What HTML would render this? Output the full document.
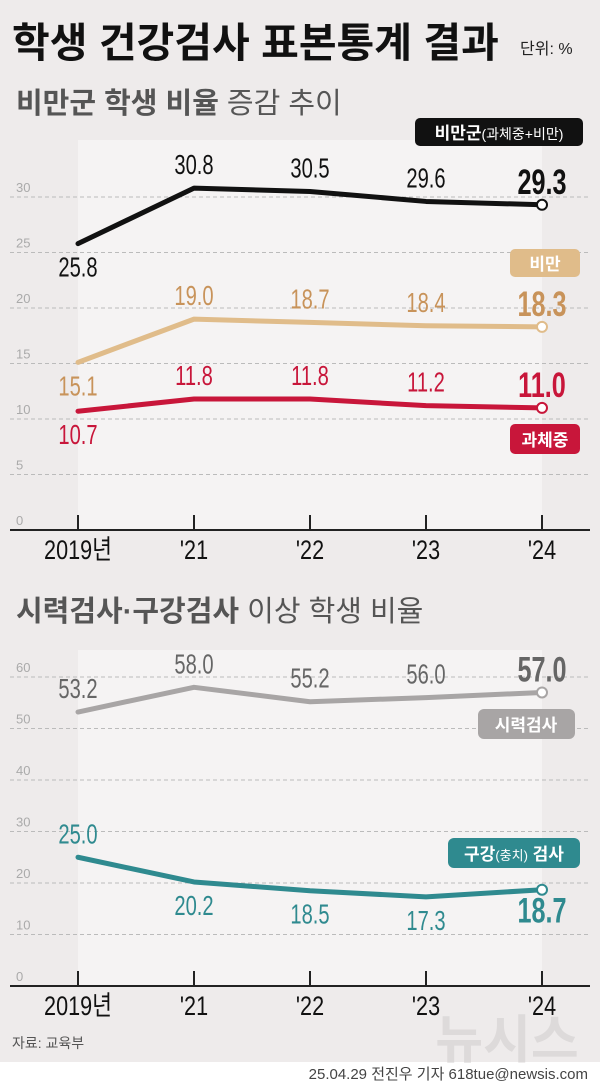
<!DOCTYPE html>
<html><head><meta charset="utf-8">
<style>
body{margin:0;background:#fff;}
svg{display:block;font-family:"Liberation Sans","Noto Sans CJK KR",sans-serif;}
.k{font-family:"Liberation Sans","Noto Sans CJK KR",sans-serif;}
</style></head>
<body>
<svg id="c" width="600" height="1086" viewBox="0 0 600 1086">
<rect x="0" y="0" width="600" height="1062" fill="#eeebeb"/>
<rect x="78" y="140" width="464" height="390" fill="#f5f3f3"/>
<rect x="78" y="650" width="464" height="336" fill="#f5f3f3"/>
<text class="k" x="12" y="57" font-size="41" font-weight="bold" fill="#111">학생 건강검사 표본통계 결과</text>
<text class="k" x="520" y="54" font-size="16" fill="#222">단위: %</text>
<text class="k" x="16" y="113" font-size="29" fill="#555"><tspan font-weight="bold">비만군 학생 비율</tspan> 증감 추이</text>
<text class="k" x="16" y="621" font-size="29" fill="#555"><tspan font-weight="bold">시력검사·구강검사</tspan> 이상 학생 비율</text>
<g id="g1"></g><g id="g2"></g>
<rect x="415" y="118" width="168" height="28" rx="5" fill="#111"/>
<text class="k" x="499" y="139" font-size="17" fill="#fff" text-anchor="middle"><tspan font-weight="bold">비만군</tspan><tspan font-size="14">(과체중+비만)</tspan></text>
<rect x="510" y="249" width="70" height="28" rx="5" fill="#e0bc8a"/>
<text class="k" x="545" y="270" font-size="17" font-weight="bold" fill="#fff" text-anchor="middle">비만</text>
<rect x="510" y="424" width="70" height="30" rx="5" fill="#c8163a"/>
<text class="k" x="545" y="446" font-size="17" font-weight="bold" fill="#fff" text-anchor="middle">과체중</text>
<rect x="478" y="709" width="97" height="30" rx="6" fill="#a8a5a5"/>
<text class="k" x="526" y="731" font-size="17" font-weight="bold" fill="#fff" text-anchor="middle">시력검사</text>
<rect x="448" y="838" width="132" height="30" rx="6" fill="#2f8a8f"/>
<text class="k" x="514" y="860" font-size="17" font-weight="bold" fill="#fff" text-anchor="middle">구강<tspan font-size="13" font-weight="normal">(충치)</tspan> 검사</text>
<text class="k" x="12" y="1048" font-size="14" fill="#555">자료: 교육부</text>
<text class="k" x="507" y="1058" font-size="52" font-weight="bold" fill="#dddada" text-anchor="middle">뉴시스</text>
<text class="k" x="588" y="1079" font-size="15" fill="#444" text-anchor="end">25.04.29 전진우 기자 618tue@newsis.com</text>
</svg>
<script>
const years=["2019년","'21","'22","'23","'24"];
const obeseGroup=[25.8,30.8,30.5,29.6,29.3];
const obese=[15.1,19.0,18.7,18.4,18.3];
const overweight=[10.7,11.8,11.8,11.2,11.0];
const ticks1=[0,5,10,15,20,25,30];
const vision=[53.2,58.0,55.2,56.0,57.0];
const dental=[25.0,20.2,18.5,17.3,18.7];
const ticks2=[0,10,20,30,40,50,60];
const NS="http://www.w3.org/2000/svg";
function mk(p,t,a){const e=document.createElementNS(NS,t);for(const k in a)e.setAttribute(k,a[k]);p.appendChild(e);return e;}
const xs=i=>78+i*116;
function chart(g,zero,ppu,ticks,series){
  const y=v=>zero-v*ppu;
  ticks.forEach(t=>{
    if(t>0){const l=mk(g,'line',{x1:10,x2:590,y1:y(t),y2:y(t),stroke:'#bbb','stroke-dasharray':'4 3','stroke-width':1});
    
    }
    const tx=mk(g,'text',{x:16,y:y(t)-5,'font-size':13,fill:'#aaa'});tx.textContent=t;
    
    
  });
  const ax=mk(g,'line',{x1:10,x2:590,y1:zero,y2:zero,stroke:'#222','stroke-width':2});
  
  
  years.forEach((yr,i)=>{
    const tk=mk(g,'line',{x1:xs(i),x2:xs(i),y1:zero-15,y2:zero,stroke:'#222','stroke-width':2});
    
    
    const t=mk(g,'text',{x:0,y:0,'font-size':27,fill:'#111','text-anchor':'middle',transform:'translate('+xs(i)+','+(zero+29)+') scale(0.8,1)'});t.textContent=yr;
    
    
  });
  series.forEach(s=>{
    const pts=s.v.map((v,i)=>xs(i)+','+y(v)).join(' ');
    const pl=mk(g,'polyline',{points:pts,fill:'none',stroke:s.c,'stroke-width':5,'stroke-linejoin':'round','stroke-linecap':'round'});
    
    
    const ci=mk(g,'circle',{cx:xs(4),cy:y(s.v[4]),r:5,fill:'#fff',stroke:s.c,'stroke-width':2});
    
    
    s.v.forEach((v,i)=>{
      const below=s.below(i);
      const last=i===4;
      const ty=below?y(v)+33:y(v)-(last?11:14);
      const t=mk(g,'text',{x:0,y:0,'font-size':last?35:28,'font-weight':last?'bold':'normal',fill:s.lc,'text-anchor':'middle',transform:'translate('+xs(i)+','+ty+') scale(0.72,1)'});
      t.textContent=v.toFixed(1);
      
      
    });
  });
}
chart(document.getElementById('g1'),530,11.1,ticks1,[
 {n:'obese-group',v:obeseGroup,c:'#111',lc:'#111',below:i=>i===0},
 {n:'obese',v:obese,c:'#e0bc8a',lc:'#c8935a',below:i=>i===0},
 {n:'overweight',v:overweight,c:'#c8163a',lc:'#c8163a',below:i=>i===0}]);
chart(document.getElementById('g2'),986,5.15,ticks2,[
 {n:'vision',v:vision,c:'#a8a5a5',lc:'#666',below:i=>false},
 {n:'dental',v:dental,c:'#2f8a8f',lc:'#2f8a8f',below:i=>i>0}]);
</script>
</body></html>
